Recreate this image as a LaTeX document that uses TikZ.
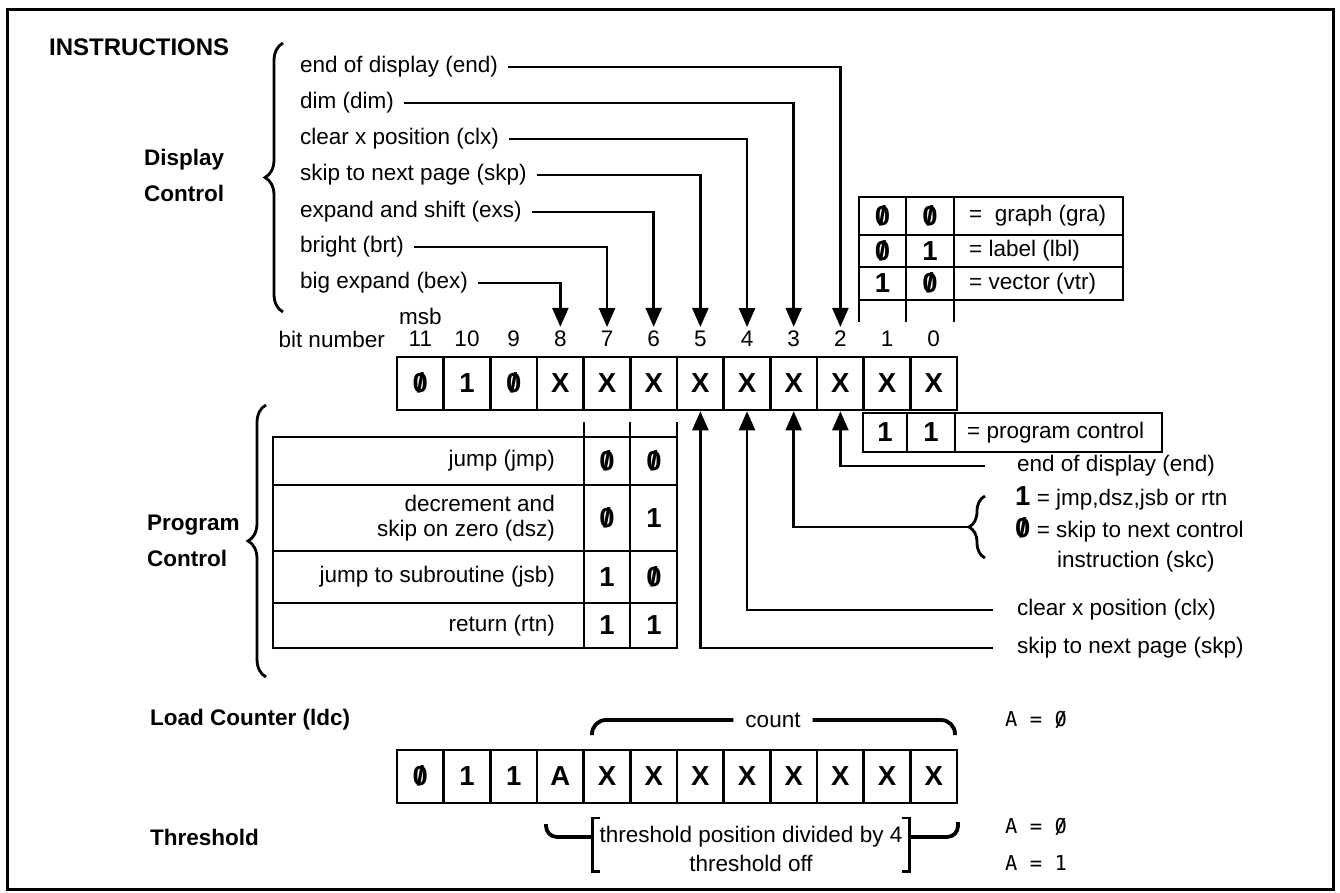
\documentclass[tikz,border=0pt]{standalone}
\usepackage{fontspec}
\setmainfont{Liberation Sans}
\newfontfamily\monofont{DejaVu Sans Mono}
\usetikzlibrary{arrows.meta,decorations.pathreplacing}

\newcommand\zr{\ooalign{0\cr\hidewidth/\hidewidth\cr}}
\newcommand\txtsize{\fontsize{22.5}{25}\selectfont}
\newcommand\cellfont{\fontsize{27.5}{27.5}\selectfont\bfseries}

\tikzset{
  lbl/.style={font=\txtsize, inner sep=0pt, anchor=west},
  rlbl/.style={font=\txtsize, inner sep=0pt, anchor=east, align=right},
  head/.style={font=\fontsize{22.5}{36}\selectfont\bfseries, inner sep=0pt, anchor=west},
  bitnum/.style={font=\txtsize, inner xsep=0pt, inner ysep=4pt},
  bitcell/.style={draw, line width=2.6pt, minimum width=46.67pt, minimum height=53pt, inner sep=0pt, font=\cellfont},
  digit/.style={font=\cellfont, inner sep=0pt},
  box/.style={line width=2.6pt},
  conn/.style={line width=2.5pt},
  thk/.style={line width=3.8pt},
  brc/.style={decorate, decoration={brace, amplitude=18pt}, line width=2.8pt},
  mono/.style={font=\fontsize{20.5}{24}\selectfont\monofont, inner sep=0pt, anchor=west},
}

\begin{document}
\begin{tikzpicture}[x=1pt, y=-1pt, >={Triangle[length=19pt,width=16pt]}]
\useasboundingbox (0,0) rectangle (1340,893);
\draw[line width=3pt] (7,10) rectangle (1333,889);

% headings
\node[head, font=\fontsize{24}{28}\selectfont\bfseries] (title) at (49,47) {INSTRUCTIONS};
\node[head, align=left] (dispctl) at (144,175) {Display\\Control};
\node[head, align=left] (progctl) at (147,541) {Program\\Control};
\node[head] (ldc) at (150,720) {Load Counter (ldc)};
\node[head] (thresh) at (150,837) {Threshold};

\draw[brc] (283,312) -- (283,43);
\draw[brc] (266,677) -- (266,405);

% instruction word
\node[rlbl] (bitno) at (385,339) {bit number};
\foreach \b/\v in {11/\zr,10/1,9/\zr,8/X,7/X,6/X,5/X,4/X,3/X,2/X,1/X,0/X}{
  \pgfmathsetmacro\cx{397+(11.5-\b)*46.67}
  \node[bitcell] (t\b) at (\cx,383.5) {\v};
  \node[bitnum] (n\b) at (\cx,339) {\b};
}
\node[font=\txtsize, inner sep=0pt] (msb) at ([yshift=23pt]n11.center) {msb};

% display control bits
\foreach \t/\b/\yy in {end of display (end)/2/67, dim (dim)/3/103, clear x position (clx)/4/139,
    skip to next page (skp)/5/175, expand and shift (exs)/6/212, bright (brt)/7/247, big expand (bex)/8/283}{
  \node[lbl] (d\b) at (300,\yy) {\t};
  \draw[conn,->] ([xshift=10pt]d\b.east) -| (n\b.north);
}

% mode table, bits 1 and 0
\draw[box] (859,197) rectangle (1123,300);
\draw[box] (859,235) -- (1123,235) (859,267) -- (1123,267);
\draw[box] (859,300) -- (859,322) (906,197) -- (906,322) (954,197) -- (954,322);
\foreach \k/\a/\c/\t/\yy in {1/\zr/\zr/{=\ \ graph (gra)}/216, 2/\zr/1/{= label (lbl)}/251, 3/1/\zr/{= vector (vtr)}/283.5}{
  \node[digit] (ma\k) at (882.5,\yy) {\a};
  \node[digit] (mb\k) at (930,\yy) {\c};
  \node[lbl] (mt\k) at (969,\yy) {\t};
}

\draw[box] (863,413) rectangle (1162,452) (907,413) -- (907,452) (955,413) -- (955,452);
\node[digit] (pc1) at (885,432.5) {1};
\node[digit] (pc0) at (931,432.5) {1};
\node[lbl] (pct) at (967,432.5) {= program control};

% program control table, bits 7 and 6
\draw[box] (273,437) rectangle (677,648);
\draw[box] (273,485) -- (677,485) (273,551) -- (677,551) (273,603) -- (677,603);
\draw[box] (584,422) -- (584,648) (630,422) -- (630,648) (677,422) -- (677,437);
\foreach \k/\t/\a/\c/\yy in {1/{jump (jmp)}/\zr/\zr/461, 2/{decrement and\\skip on zero (dsz)}/\zr/1/518,
    3/{jump to subroutine (jsb)}/1/\zr/577, 4/{return (rtn)}/1/1/625.5}{
  \node[rlbl] (pt\k) at (555,\yy) {\t};
  \node[digit] (pa\k) at (607,\yy) {\a};
  \node[digit] (pb\k) at (654,\yy) {\c};
}

% program control bits 5..2
\node[lbl] (pend) at (1017,466) {end of display (end)};
\node[lbl] (pone) at (1015,498) {{\cellfont 1} = jmp,dsz,jsb or rtn};
\node[lbl] (pzero) at (1015,530) {{\cellfont\zr} = skip to next control};
\node[lbl] (pinst) at (1057,562) {instruction (skc)};
\node[lbl] (pclx) at (1017,610) {clear x position (clx)};
\node[lbl] (pskp) at (1017,648) {skip to next page (skp)};
\draw[brc, decoration={amplitude=16pt}] (985,558) -- (985,496);
\coordinate (bq) at (969,527);
\draw[conn,->] (bq) -| (t3.south);
\draw[conn,->] ([xshift=-32pt]pend.west) -| (t2.south);
\draw[conn,->] ([xshift=-24pt]pclx.west) -| (t4.south);
\draw[conn,->] ([xshift=-24pt]pskp.west) -| (t5.south);

% load counter / threshold word
\foreach \b/\v in {11/\zr,10/1,9/1,8/A,7/X,6/X,5/X,4/X,3/X,2/X,1/X,0/X}{
  \pgfmathsetmacro\cx{397+(11.5-\b)*46.67}
  \node[bitcell] (l\b) at (\cx,776.5) {\v};
}
\node[lbl, anchor=center, inner xsep=12pt] (cnt) at (773,720) {count};
\coordinate (ctL) at (592,735);
\coordinate (ctR) at (955,735);
\draw[thk, rounded corners=14pt] (ctL) |- (cnt.west);
\draw[thk, rounded corners=14pt] (cnt.east) -| (ctR);

\node[lbl, anchor=center] (thr) at (751,837) {threshold position divided by 4};
\node[lbl, anchor=center] (thoff) at (751,863) {threshold off};
\coordinate (bl) at ([xshift=-7pt,yshift=19pt]thr.west);
\coordinate (br) at ([xshift=7pt,yshift=19pt]thr.east);
\draw[conn] ([xshift=8pt]bl) -- (bl) -- (bl |- thoff.south) -- ++(8,0);
\draw[conn] ([xshift=-8pt]br) -- (br) -- (br |- thoff.south) -- ++(-8,0);
\coordinate (thL) at (546,824);
\coordinate (thR) at (958,822);
\draw[thk, rounded corners=11pt] (thL) |- (bl |- thr.west);
\draw[thk, rounded corners=11pt] (br |- thr.east) -| (thR);

\node[mono] (a1) at (1005,720) {A = \zr};
\node[mono] (a2) at (1005,827) {A = \zr};
\node[mono] (a3) at (1005,863) {A = 1};
\end{tikzpicture}
\end{document}
